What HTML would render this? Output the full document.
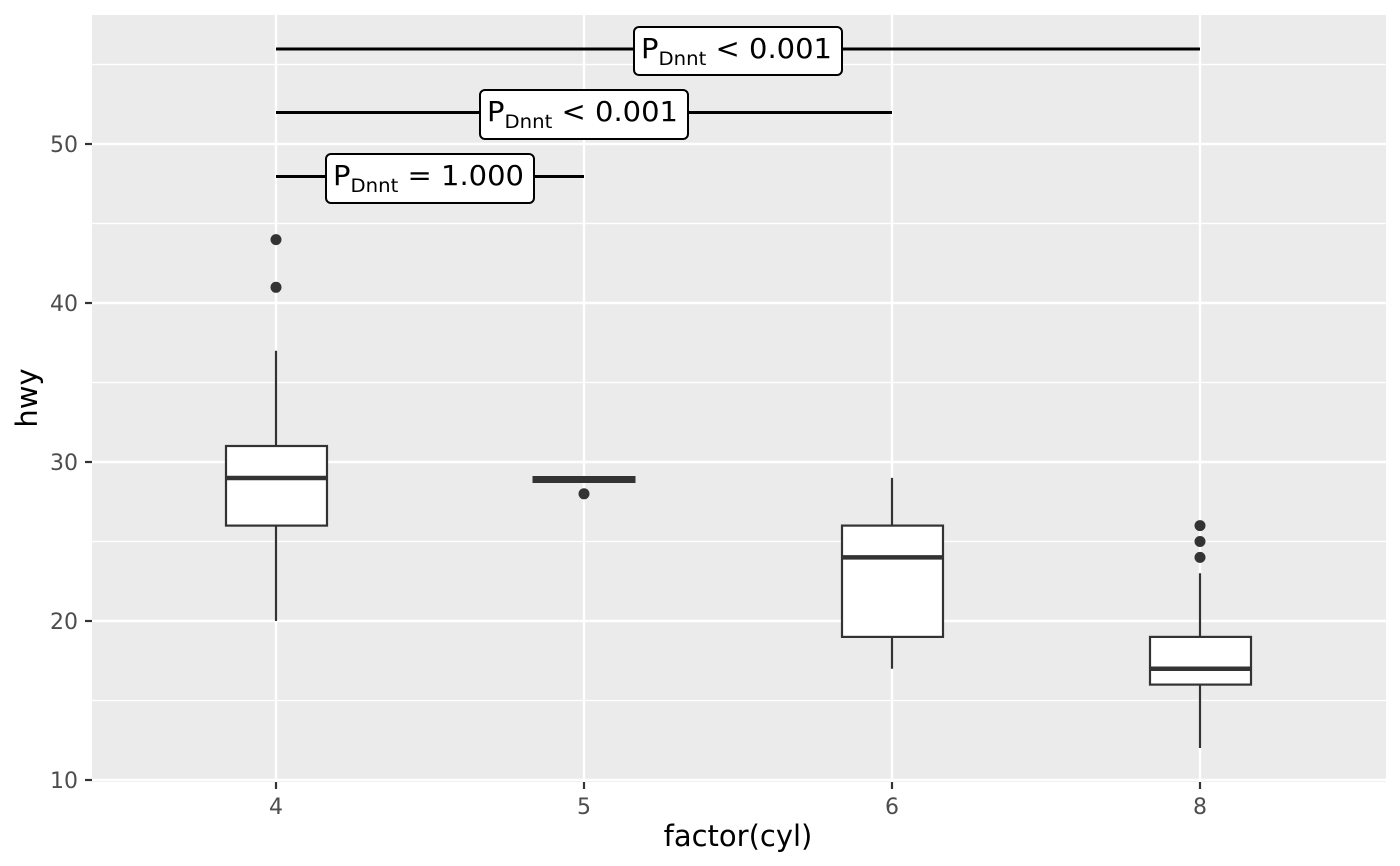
<!DOCTYPE html>
<html><head><style>body{margin:0;background:#fff}svg{display:block}</style></head><body>
<svg width="1400" height="866" xmlns="http://www.w3.org/2000/svg" font-family="DejaVu Sans, Liberation Sans, sans-serif">
<rect x="92" y="15" width="1294" height="767" fill="#ebebeb"/>
<g stroke="#fff" stroke-width="1.2">
<line x1="92" x2="1386" y1="700.5" y2="700.5"/><line x1="92" x2="1386" y1="541.5" y2="541.5"/><line x1="92" x2="1386" y1="382.5" y2="382.5"/><line x1="92" x2="1386" y1="223.5" y2="223.5"/><line x1="92" x2="1386" y1="64.5" y2="64.5"/>
</g>
<g stroke="#fff" stroke-width="2.4">
<line x1="92" x2="1386" y1="780" y2="780"/><line x1="92" x2="1386" y1="621" y2="621"/><line x1="92" x2="1386" y1="462" y2="462"/><line x1="92" x2="1386" y1="303" y2="303"/><line x1="92" x2="1386" y1="144" y2="144"/>
<line x1="276" x2="276" y1="15" y2="782"/><line x1="584" x2="584" y1="15" y2="782"/><line x1="892" x2="892" y1="15" y2="782"/><line x1="1200" x2="1200" y1="15" y2="782"/>
</g>
<g stroke="#333" stroke-width="2.2" fill="#fff">
<line x1="276" x2="276" y1="621" y2="350.7"/><rect x="226" y="446" width="101" height="79.6"/><line x1="226" x2="327" y1="478" y2="478" stroke-width="4.5"/>
<rect x="533" y="476.5" width="102" height="6" stroke-width="1" fill="#333"/>
<line x1="892" x2="892" y1="668.7" y2="477.9"/><rect x="842" y="525.6" width="101" height="111.3"/><line x1="842" x2="943" y1="557.4" y2="557.4" stroke-width="4.5"/>
<line x1="1200" x2="1200" y1="748" y2="573.3"/><rect x="1150" y="636.9" width="101" height="47.7"/><line x1="1150" x2="1251" y1="668.7" y2="668.7" stroke-width="4.5"/>
</g>
<g fill="#333">
<circle cx="276" cy="287.3" r="5.5"/><circle cx="276" cy="239.6" r="5.5"/><circle cx="584" cy="493.8" r="5.5"/>
<circle cx="1200" cy="557.4" r="5.5"/><circle cx="1200" cy="541.5" r="5.5"/><circle cx="1200" cy="525.6" r="5.5"/>
</g>
<g stroke="#000" stroke-width="3">
<line x1="276" x2="1200" y1="49" y2="49"/><line x1="276" x2="892" y1="112.5" y2="112.5"/><line x1="276" x2="584" y1="176.5" y2="176.5"/>
</g>
<g fill="#fff" stroke="#000" stroke-width="2">
<rect x="634" y="27" width="208" height="48" rx="5"/><rect x="480" y="90" width="208" height="49" rx="5"/><rect x="326" y="154" width="208" height="49" rx="5"/>
</g>
<g font-size="28" fill="#000">
<text x="641" y="58" textLength="191" lengthAdjust="spacingAndGlyphs">P<tspan font-size="19" dy="7">Dnnt</tspan><tspan dy="-7"> &lt; 0.001</tspan></text>
<text x="487" y="121" textLength="191" lengthAdjust="spacingAndGlyphs">P<tspan font-size="19" dy="7">Dnnt</tspan><tspan dy="-7"> &lt; 0.001</tspan></text>
<text x="333" y="185" textLength="191" lengthAdjust="spacingAndGlyphs">P<tspan font-size="19" dy="7">Dnnt</tspan><tspan dy="-7"> = 1.000</tspan></text>
</g>
<g stroke="#333" stroke-width="2.2">
<line x1="85" x2="92" y1="780" y2="780"/><line x1="85" x2="92" y1="621" y2="621"/><line x1="85" x2="92" y1="462" y2="462"/><line x1="85" x2="92" y1="303" y2="303"/><line x1="85" x2="92" y1="144" y2="144"/>
<line x1="276" x2="276" y1="782" y2="789"/><line x1="584" x2="584" y1="782" y2="789"/><line x1="892" x2="892" y1="782" y2="789"/><line x1="1200" x2="1200" y1="782" y2="789"/>
</g>
<g font-size="22" fill="#4d4d4d" text-anchor="end">
<text x="78" y="788">10</text><text x="78" y="629">20</text><text x="78" y="470">30</text><text x="78" y="311">40</text><text x="78" y="152">50</text>
</g>
<g font-size="22" fill="#4d4d4d" text-anchor="middle">
<text x="276" y="814">4</text><text x="584" y="814">5</text><text x="892" y="814">6</text><text x="1200" y="814">8</text>
</g>
<text x="738" y="846" font-size="29" text-anchor="middle">factor(cyl)</text>
<text transform="translate(37,398) rotate(-90)" font-size="29" text-anchor="middle">hwy</text>
</svg>
</body></html>
